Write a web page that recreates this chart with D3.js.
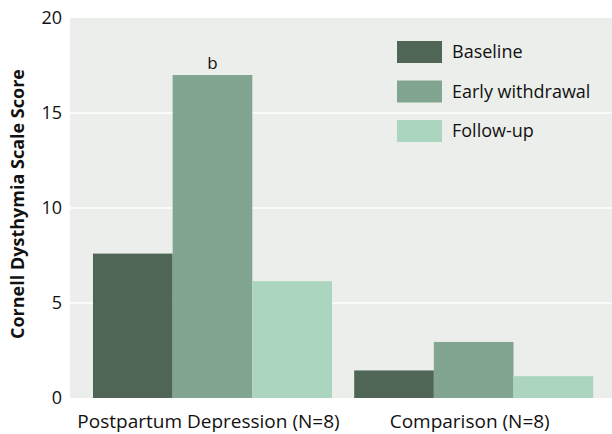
<!DOCTYPE html>
<html><head><meta charset="utf-8">
<script src="https://cdn.jsdelivr.net/npm/d3@7"></script>
<style>body{margin:0;background:#fff}svg{display:block}text{font-family:"Open Sans","Noto Sans",sans-serif;fill:#111}</style>
</head><body>
<svg id="c" width="612" height="434"></svg>
<script>
const groups = ["Postpartum Depression (N=8)", "Comparison (N=8)"];
const series = ["Baseline", "Early withdrawal", "Follow-up"];
const baseline = [7.6, 1.45];
const earlyWithdrawal = [17.0, 2.95];
const followUp = [6.15, 1.15];
const yTicks = [0, 5, 10, 15, 20];
const annotations = [{group: 0, series: 1, text: "b"}];
const colors = ["#4f6657", "#82a592", "#abd5be"];

const values = [baseline, earlyWithdrawal, followUp];
const svg = d3.select("#c");
const L = 70, R = 612, T = 18, B = 398;
const y = d3.scaleLinear().domain([0, 20]).range([B, T]);
const x0 = d3.scaleBand().domain(groups).range([L, R]).paddingInner(0.085).paddingOuter(0.08).align(0.55);
const x1 = d3.scaleBand().domain(series).range([0, x0.bandwidth()]);

svg.append("rect").attr("x", L).attr("y", T).attr("width", R - L).attr("height", B - T).attr("fill", "#eceeeb");
svg.append("g").selectAll("line").data(yTicks.filter(d => d > 0 && d < 20)).join("line")
  .attr("x1", L).attr("x2", R).attr("y1", d => y(d)).attr("y2", d => y(d))
  .attr("stroke", "#fff").attr("stroke-width", 1.5);

const yAxis = svg.append("g").attr("transform", `translate(${L},0)`)
  .call(d3.axisLeft(y).tickValues(yTicks).tickSize(0).tickPadding(8));
yAxis.select(".domain").remove();
yAxis.selectAll("text").style("font-size", "18px").attr("fill", "#111");

const g = svg.append("g");
groups.forEach((grp, gi) => {
  series.forEach((s, si) => {
    const v = values[si][gi];
    g.append("rect").attr("x", x0(grp) + x1(s)).attr("width", x1.bandwidth())
      .attr("y", y(v)).attr("height", y(0) - y(v)).attr("fill", colors[si]);
  });
});
annotations.forEach(a => {
  const v = values[a.series][a.group];
  svg.append("text").attr("x", x0(groups[a.group]) + x1(series[a.series]) + x1.bandwidth() / 2)
    .attr("y", y(v) - 6).attr("text-anchor", "middle").style("font-size", "17px").text(a.text);
});

const xAxis = svg.append("g").attr("transform", `translate(0,${B})`)
  .call(d3.axisBottom(x0).tickSize(0).tickPadding(17));
xAxis.select(".domain").remove();
xAxis.selectAll("text").style("font-size", "19px").attr("fill", "#111").attr("dx", "-4");

svg.append("text").attr("transform", `translate(24,204) rotate(-90)`)
  .attr("text-anchor", "middle").style("font-size", "18px").style("font-weight", "bold")
  .text("Cornell Dysthymia Scale Score");

const leg = svg.append("g");
series.forEach((s, i) => {
  const yy = 41 + i * 39.5;
  leg.append("rect").attr("x", 397).attr("y", yy).attr("width", 45).attr("height", 22).attr("fill", colors[i]);
  leg.append("text").attr("x", 452).attr("y", yy + 11).attr("dy", "0.35em").style("font-size", "18px").text(s);
});
</script>
</body></html>
